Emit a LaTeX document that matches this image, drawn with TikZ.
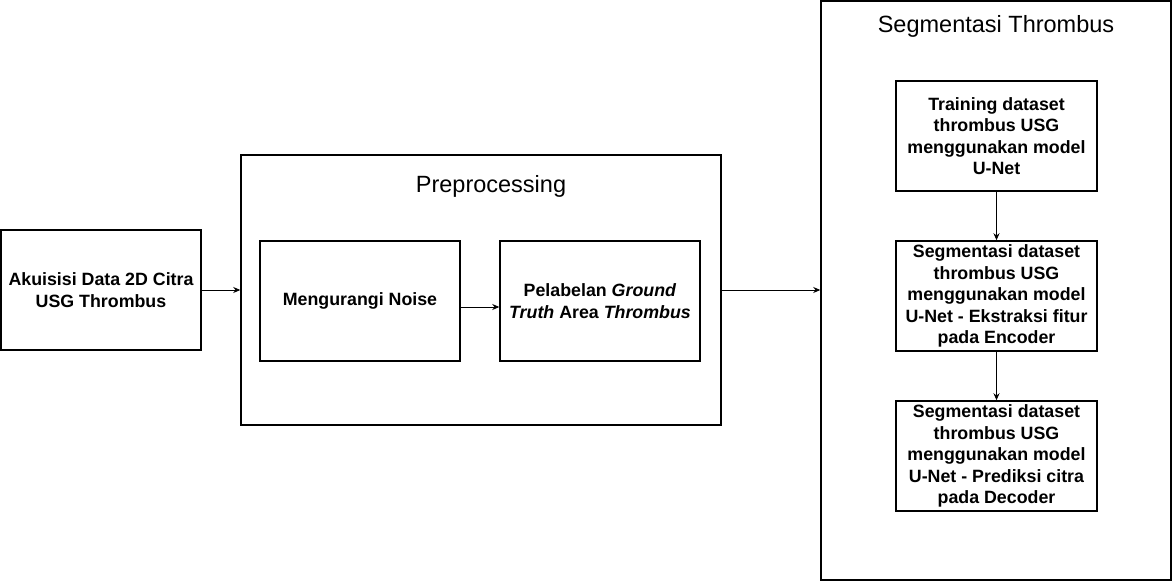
\documentclass[tikz,border=0pt]{standalone}
\usepackage{fontspec}
\setmainfont{Liberation Sans}
\usetikzlibrary{arrows.meta}

\begin{document}
\begin{tikzpicture}[x=1pt, y=-1pt,
    box/.style={draw, line width=1.5pt, inner sep=0pt, align=center,
        font=\fontsize{17.8}{21.5}\selectfont\bfseries},
    frame/.style={draw, line width=1.5pt, inner sep=0pt},
    title/.style={font=\fontsize{23.5}{27}\selectfont},
    arr/.style={-{Stealth[length=7pt, width=6pt]}, line width=0.8pt}]
    \useasboundingbox (0, 0) rectangle (1173, 583);

    % outer groups
    \node[frame, minimum width=480pt, minimum height=270pt] (prep) at (481, 290) {};
    \node[title] (preptitle) at (491, 186) {Preprocessing};
    \node[frame, minimum width=350pt, minimum height=579pt] (seg) at (996, 290.5) {};
    \node[title] (segtitle) at (996, 26) {Segmentasi Thrombus};

    % steps
    \node[box, minimum width=200pt, minimum height=120pt] (akuisisi) at (101, 290)
        {Akuisisi Data 2D Citra\\USG Thrombus};
    \node[box, minimum width=200pt, minimum height=120pt] (noise) at (360, 301)
        {Mengurangi Noise};
    \node[box, minimum width=200pt, minimum height=120pt] (label) at (600, 301)
        {Pelabelan \textit{Ground}\\\textit{Truth} Area \textit{Thrombus}};

    \node[box, minimum width=201pt, minimum height=110pt] (train) at (996.5, 136)
        {Training dataset\\thrombus USG\\menggunakan model\\U-Net};
    \node[box, minimum width=201pt, minimum height=110pt] (encoder) at (996.5, 296)
        {Segmentasi dataset\\thrombus USG\\menggunakan model\\U-Net - Ekstraksi fitur\\pada Encoder};
    \node[box, minimum width=201pt, minimum height=110pt] (decoder) at (996.5, 456)
        {Segmentasi dataset\\thrombus USG\\menggunakan model\\U-Net - Prediksi citra\\pada Decoder};

    % connectors
    \draw[arr] (akuisisi.east) -- (prep.west);
    \draw[arr] ([yshift=-6pt]noise.east) -- ([yshift=-6pt]label.west);
    \draw[arr] (prep.east) -- (prep.east -| seg.west);
    \draw[arr] (train.south) -- (encoder.north);
    \draw[arr] (encoder.south) -- (decoder.north);
\end{tikzpicture}
\end{document}
